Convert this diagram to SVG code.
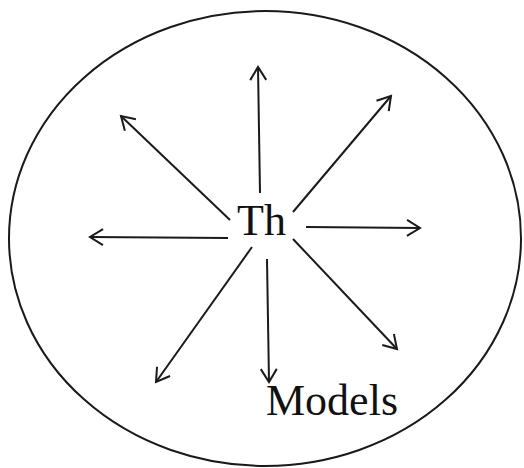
<svg xmlns="http://www.w3.org/2000/svg" width="524" height="468" viewBox="0 0 524 468">
<style>
.edge{stroke:#1a1a1a;stroke-width:2;fill:none;marker-end:url(#arr)}
.lbl{font-family:"Liberation Serif","Times New Roman",serif;font-size:44px;fill:#111}
</style>
<defs>
<marker id="arr" markerUnits="userSpaceOnUse" markerWidth="20" markerHeight="20" viewBox="0 0 20 20" refX="16" refY="10" orient="auto">
<path d="M3,2 L16,10 L3,18" fill="none" stroke="#1a1a1a" stroke-width="2"/>
</marker>
</defs>
<rect width="524" height="468" fill="#fff"/>
<g id="boundary">
<ellipse cx="265" cy="238.5" rx="256" ry="227.5" fill="none" stroke="#1a1a1a" stroke-width="2"/>
</g>
<g id="connectors">
<line class="edge" x1="260" y1="193" x2="258" y2="67"/>
<line class="edge" x1="230" y1="220" x2="121" y2="116"/>
<line class="edge" x1="293" y1="212" x2="391" y2="96"/>
<line class="edge" x1="228" y1="238" x2="90" y2="237"/>
<line class="edge" x1="306" y1="227" x2="420" y2="228"/>
<line class="edge" x1="293" y1="239" x2="397" y2="349"/>
<line class="edge" x1="267" y1="259" x2="269" y2="382"/>
<line class="edge" x1="252" y1="247" x2="156" y2="382"/>
</g>
<g id="th">
<text class="lbl" x="237" y="235">Th</text>
</g>
<g id="models">
<text class="lbl" x="266" y="415">Models</text>
</g>
</svg>
